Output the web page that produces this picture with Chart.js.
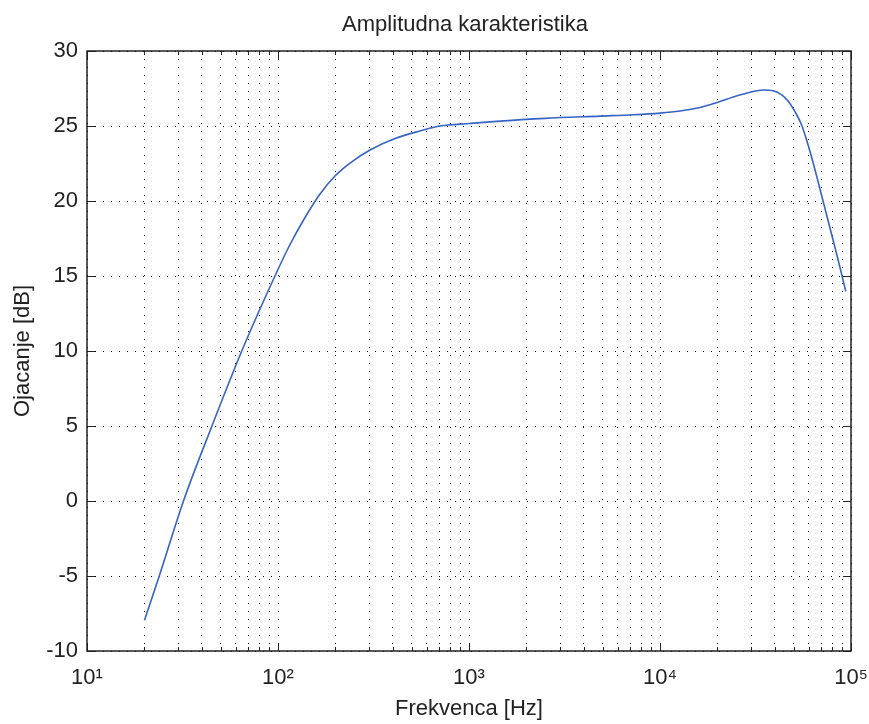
<!DOCTYPE html>
<html>
<head>
<meta charset="utf-8">
<script src="https://cdn.jsdelivr.net/npm/chart.js@4"></script>
<style>
  html, body { margin: 0; padding: 0; background: #fff; }
  #wrap { width: 869px; height: 724px; }
</style>
</head>
<body>
<div id="wrap"><canvas id="graf" width="869" height="724"></canvas></div>
<script>
// ocitano sa slike
const frekvencija = [20, 23.9, 32.0, 45.1, 64.6, 96.4, 115.6, 138.5, 165.9, 198.8, 238.2, 303.2, 409.9, 554, 705,
  1012, 1336, 2500, 4853, 7250, 10000, 12740, 16200, 19950, 24200, 29600, 34760, 39200, 43370, 46960,
  51970, 55200, 58610, 62270, 66130, 70240, 74620, 79250, 84180, 89400, 93830];
const pojacanje = [-7.95, -5.0, 0.0, 5.0, 10.0, 15.0, 17.1, 18.9, 20.47, 21.67, 22.53, 23.4, 24.17, 24.67, 25.0,
  25.17, 25.29, 25.51, 25.66, 25.75, 25.86, 26.0, 26.23, 26.57, 26.93, 27.25, 27.4, 27.35, 27.08, 26.65,
  25.75, 25.05, 24.05, 22.9, 21.65, 20.35, 19.05, 17.75, 16.45, 15.1, 13.98];

const xTicks = [10, 100, 1000, 10000, 100000];
const xTickLabels = ['10¹', '10²', '10³', '10⁴', '10⁵'];
const mnozioci = [2, 3, 4, 5, 6, 7, 8, 9];
const yTicks = [-10, -5, 0, 5, 10, 15, 20, 25, 30];

const naslov = 'Amplitudna karakteristika';
const FONT = '"Liberation Sans", Arial, sans-serif';

// svi podeoci na x osi (dekade + medjupodeoci)
const sviXTicks = [];
xTicks.forEach((d, i) => {
  sviXTicks.push(d);
  if (i < xTicks.length - 1) mnozioci.forEach(m => sviXTicks.push(d * m));
});

const okvir = {
  id: 'okvir',
  afterDraw(chart) {
    const { ctx, chartArea: a, scales: { x, y } } = chart;
    ctx.save();
    ctx.strokeStyle = '#222';
    ctx.lineWidth = 1;
    ctx.beginPath();
    sviXTicks.forEach(v => {
      const px = Math.round(x.getPixelForValue(v)) + 0.5;
      const len = xTicks.includes(v) ? 8 : 4;
      ctx.moveTo(px, a.bottom); ctx.lineTo(px, a.bottom - len);
      ctx.moveTo(px, a.top); ctx.lineTo(px, a.top + len);
    });
    yTicks.forEach(v => {
      const py = Math.round(y.getPixelForValue(v)) + 0.5;
      ctx.moveTo(a.left, py); ctx.lineTo(a.left + 8, py);
      ctx.moveTo(a.right, py); ctx.lineTo(a.right - 8, py);
    });
    ctx.stroke();
    ctx.lineWidth = 1.5;
    ctx.strokeRect(a.left, a.top, a.right - a.left, a.bottom - a.top);

    ctx.fillStyle = '#222';
    ctx.font = '22px ' + FONT;
    ctx.textAlign = 'center';
    ctx.textBaseline = 'middle';
    ctx.fillText(naslov, (a.left + a.right) / 2 - 4, 25);
    ctx.restore();
  }
};

const ctx = document.getElementById('graf').getContext('2d');
new Chart(ctx, {
  type: 'line',
  data: {
    datasets: [{
      data: frekvencija.map((f, i) => ({ x: f, y: pojacanje[i] })),
      borderColor: '#3563c6',
      borderWidth: 1.6,
      pointRadius: 0,
      cubicInterpolationMode: 'monotone',
      fill: false
    }]
  },
  options: {
    responsive: false,
    animation: false,
    layout: { padding: { top: 51, right: 18, left: 0, bottom: 0 } },
    plugins: {
      legend: { display: false },
      tooltip: { enabled: false },
      title: { display: false }
    },
    scales: {
      x: {
        type: 'logarithmic',
        min: 10,
        max: 100000,
        afterBuildTicks: s => { s.ticks = sviXTicks.map(v => ({ value: v })); },
        afterFit: s => { s.height = 73; s.paddingLeft = 0; s.paddingRight = 0; },
        ticks: {
          autoSkip: false,
          maxRotation: 0,
          padding: 14,
          color: '#222',
          font: { family: FONT, size: 22 },
          callback: v => {
            const i = xTicks.indexOf(v);
            return i >= 0 ? xTickLabels[i] : '';
          }
        },
        grid: { color: '#000', lineWidth: 1, drawTicks: false },
        border: { display: false, dash: [1, 7] },
        title: {
          display: true,
          text: 'Frekvenca [Hz]',
          color: '#222',
          font: { family: FONT, size: 22 },
          padding: { top: 0, bottom: 2 }
        }
      },
      y: {
        min: -10,
        max: 30,
        afterBuildTicks: s => { s.ticks = yTicks.map(v => ({ value: v })); },
        afterFit: s => { s.width = 87; s.paddingTop = 0; s.paddingBottom = 0; },
        ticks: {
          padding: 9,
          color: '#222',
          font: { family: FONT, size: 22 }
        },
        grid: { color: '#000', lineWidth: 1, drawTicks: false },
        border: { display: false, dash: [1, 7] },
        title: {
          display: true,
          text: 'Ojacanje [dB]',
          color: '#222',
          font: { family: FONT, size: 22 },
          padding: { top: 10, bottom: 0 }
        }
      }
    }
  },
  plugins: [okvir]
});
</script>
</body>
</html>
